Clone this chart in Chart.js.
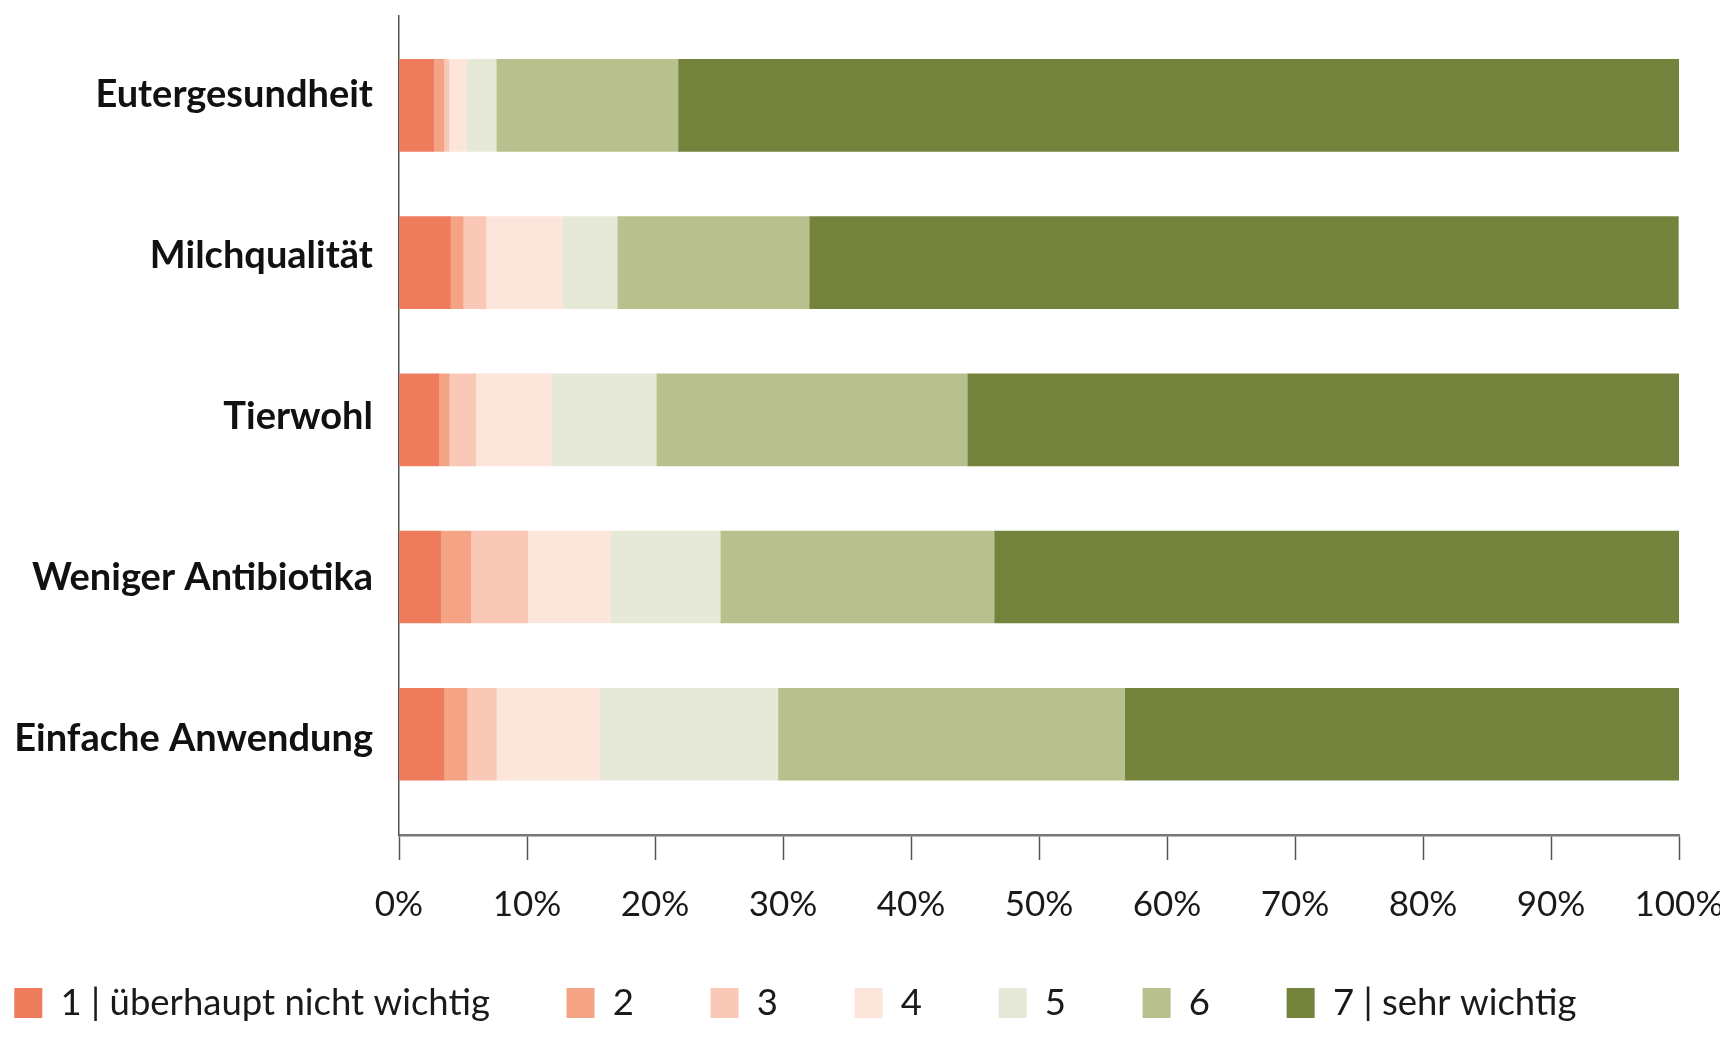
<!DOCTYPE html>
<html>
<head>
<meta charset="utf-8">
<script src="https://cdn.jsdelivr.net/npm/chart.js@4/dist/chart.umd.min.js"></script>
<style>
  html, body { margin: 0; padding: 0; background: #ffffff; }
  #wrap { width: 1720px; height: 1049px; position: relative; }
</style>
</head>
<body>
<div id="wrap"><canvas id="c"></canvas></div>
<script>
// ---- data ----
const categories = ['Eutergesundheit', 'Milchqualität', 'Tierwohl', 'Weniger Antibiotika', 'Einfache Anwendung'];
const seriesLabels = ['1 | überhaupt nicht wichtig', '2', '3', '4', '5', '6', '7 | sehr wichtig'];
const rating1 = [2.7, 4.0, 3.1, 3.25, 3.5];
const rating2 = [0.8, 1.0, 0.8, 2.35, 1.8];
const rating3 = [0.4, 1.8, 2.1, 4.45, 2.3];
const rating4 = [1.4, 6.0, 5.9, 6.5, 8.1];
const rating5 = [2.3, 4.25, 8.2, 8.55, 13.9];
const rating6 = [14.2, 15.0, 24.3, 21.4, 27.1];
const rating7 = [78.2, 67.9, 55.6, 53.5, 43.3];
const xTickValues = [0, 10, 20, 30, 40, 50, 60, 70, 80, 90, 100];

// ---- styles ----
const colors = ['#EF7B5D', '#F4A385', '#F9C8B6', '#FCE6DC', '#E6E9D8', '#B8C18D', '#74833C'];
const allSeries = [rating1, rating2, rating3, rating4, rating5, rating6, rating7];

const datasets = allSeries.map((vals, k) => ({
  label: seriesLabels[k],
  data: vals.map((v, i) => ({ x: v, y: i })),
  backgroundColor: colors[k],
  borderWidth: 0,
  barThickness: 92,
  yAxisID: 'y',
  xAxisID: 'x'
}));

Chart.defaults.font.family = 'Lato';
Chart.defaults.color = '#1a1a1a';

new Chart(document.getElementById('c'), {
  type: 'bar',
  data: { datasets },
  options: {
    indexAxis: 'y',
    responsive: true,
    maintainAspectRatio: false,
    animation: false,
    layout: { padding: { top: 16, bottom: 17.75, left: -62.3, right: 41 } },
    plugins: {
      tooltip: { enabled: false },
      title: { display: false },
      legend: {
        position: 'bottom',
        align: 'start',
        labels: {
          boxWidth: 28,
          boxHeight: 30,
          padding: 76.6,
          color: '#1a1a1a',
          font: { size: 36.5, family: 'Lato' }
        }
      }
    },
    scales: {
      x: {
        type: 'linear',
        stacked: true,
        min: 0,
        max: 100,
        afterBuildTicks: (scale) => { scale.ticks = xTickValues.map(v => ({ value: v })); },
        afterFit: (scale) => {
          scale.height = 73.15;
          scale.paddingLeft = 0;
          scale.paddingRight = 0;
          // let the tick labels extend below the (shortened) axis box
          scale._computeLabelArea = () => undefined;
        },
        ticks: {
          callback: (v) => v + '%',
          padding: 24,
          maxRotation: 0,
          autoSkip: false,
          color: '#1a1a1a',
          font: { size: 35, family: 'Lato' }
        },
        grid: {
          drawOnChartArea: false,
          drawTicks: true,
          tickLength: 25,
          tickWidth: 1.5,
          tickColor: '#555555'
        },
        border: { display: true, color: '#777777', width: 2.5 }
      },
      y: {
        type: 'linear',
        axis: 'y',
        position: 'left',
        stacked: true,
        reverse: true,
        offset: false,
        grid: { offset: false },
        min: -0.569,
        max: 4.641,
        display: false
      },
      yLabels: {
        type: 'linear',
        axis: 'y',
        position: 'left',
        reverse: true,
        offset: false,
        min: -0.486,
        max: 4.598,
        afterBuildTicks: (scale) => { scale.ticks = categories.map((c, i) => ({ value: i })); },
        afterFit: (scale) => { scale.width = 461.3; scale.paddingTop = 0; scale.paddingBottom = 0; },
        ticks: {
          callback: (v) => categories[v],
          padding: 26,
          autoSkip: false,
          color: '#111111',
          font: { size: 38, weight: 'bold', family: 'Lato' }
        },
        grid: { display: false, drawTicks: false, offset: false },
        border: { display: true, color: '#555555', width: 1.5 }
      }
    }
  }
});
</script>
</body>
</html>
